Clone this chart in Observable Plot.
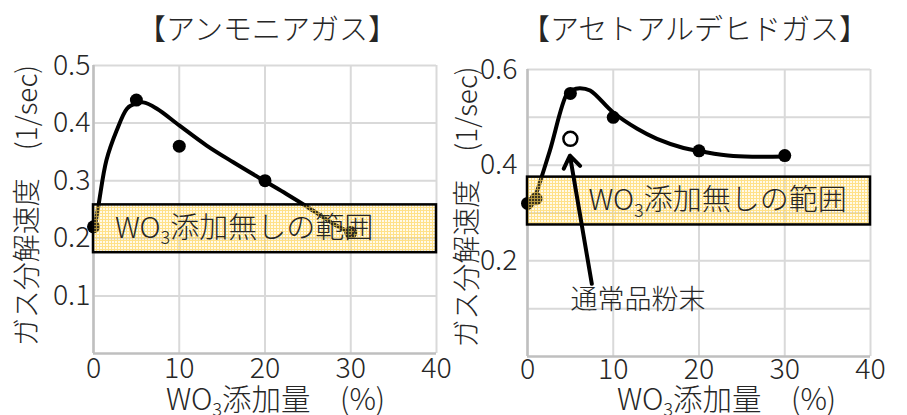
<!DOCTYPE html>
<html>
<head>
<meta charset="utf-8">
<script src="https://cdn.jsdelivr.net/npm/d3@7"></script>
<script src="https://cdn.jsdelivr.net/npm/@observablehq/plot@0.6"></script>
<style>
  body { margin: 0; background: #fff; }
  #wrap { position: relative; width: 907px; height: 415px; overflow: hidden; }
  #wrap svg { position: absolute; top: 0; overflow: visible; font-weight: 300; }
</style>
</head>
<body>
<div id="wrap"></div>
<script>
const FONT = '"Noto Sans CJK JP", "Noto Sans", sans-serif';
const INK = "#262626";

// x axis: WO3 addition (%)
const xTicks = [0, 10, 20, 30, 40];
const xLabel = "WO₃添加量　(%)";
const yLabel = "ガス分解速度　(1/sec)";
const bandLabel = "WO₃添加無しの範囲";

// Ammonia gas
const nh3Title = "【アンモニアガス】";
const nh3Wo3 = [0, 5, 10, 20, 30];
const nh3Rate = [0.22, 0.44, 0.36, 0.30, 0.21];
const nh3FitX = [0.1, 0.6, 1.5, 2.7, 3.9, 4.7, 5.8, 7.4, 10, 13.2, 16.3, 20, 22.5, 25, 28, 30.2];
const nh3FitY = [0.215, 0.259, 0.335, 0.387, 0.425, 0.433, 0.436, 0.425, 0.396, 0.361, 0.332, 0.299, 0.277, 0.254, 0.225, 0.208];
const nh3Band = [0.175, 0.258];
const nh3YTicks = [0.1, 0.2, 0.3, 0.4, 0.5];
const nh3YGrid = [0.1, 0.2, 0.3, 0.4, 0.5];

// Acetaldehyde gas
const aceTitle = "【アセトアルデヒドガス】";
const aceWo3 = [0, 1, 5, 10, 20, 30];
const aceRate = [0.32, 0.33, 0.55, 0.50, 0.43, 0.42];
const aceFitX = [0.9, 2.6, 4.6, 5.2, 6.1, 7.3, 10, 12.8, 15.1, 18.2, 20.2, 24, 30];
const aceFitY = [0.333, 0.43, 0.549, 0.557, 0.561, 0.556, 0.51, 0.476, 0.455, 0.436, 0.429, 0.419, 0.418];
const aceBand = [0.275, 0.375];
const aceYTicks = [0.2, 0.4, 0.6];
const aceYGrid = [0.1, 0.2, 0.3, 0.4, 0.5, 0.6];
// ordinary powder (no WO3 treatment) at 5 %
const plainWo3 = [5];
const plainRate = [0.455];
const plainName = "通常品粉末";
// callout arrow, in data units: from the label up to the hollow point
const calloutFrom = [7.5, 0.152];
const calloutTo = [4.95, 0.42];
const calloutText = [12.9, 0.117];

// see-through yellow plaid for the "no WO3" range band
function addBandPattern(svg, id) {
  const ns = "http://www.w3.org/2000/svg";
  const defs = document.createElementNS(ns, "defs");
  const pat = document.createElementNS(ns, "pattern");
  pat.setAttribute("id", id);
  pat.setAttribute("patternUnits", "userSpaceOnUse");
  pat.setAttribute("width", 3);
  pat.setAttribute("height", 3);
  const cells = [
    [0, 0, 3, 3, "#ffe699", 0.22],
    [0, 0, 3, 1, "#ffd24d", 0.62],
    [0, 1, 1, 2, "#ffd24d", 0.62]
  ];
  for (const [x, y, w, h, c, o] of cells) {
    const r = document.createElementNS(ns, "rect");
    r.setAttribute("x", x); r.setAttribute("y", y);
    r.setAttribute("width", w); r.setAttribute("height", h);
    r.setAttribute("fill", c); r.setAttribute("fill-opacity", o);
    pat.appendChild(r);
  }
  defs.appendChild(pat);
  svg.insertBefore(defs, svg.firstChild);
}

// turn "₃" into a lowered, smaller 3
function subscriptThree(svg) {
  const ns = "http://www.w3.org/2000/svg";
  svg.querySelectorAll("text").forEach(t => {
    const s = t.textContent;
    const i = s.indexOf("₃");
    if (i < 0 || t.querySelector("tspan")) return;
    t.textContent = "";
    t.appendChild(document.createTextNode(s.slice(0, i)));
    const sub = document.createElementNS(ns, "tspan");
    sub.setAttribute("font-size", "0.62em");
    sub.setAttribute("dy", "0.35em");
    sub.textContent = "3";
    t.appendChild(sub);
    const rest = document.createElementNS(ns, "tspan");
    rest.setAttribute("dy", "-0.217em");
    rest.textContent = s.slice(i + 1);
    t.appendChild(rest);
  });
}

function panel(o) {
  const pts = o.wo3.map((x, i) => ({x, y: o.rate[i]}));
  const fit = o.fitX.map((x, i) => ({x, y: o.fitY[i]}));
  const band = [{lo: o.band[0], hi: o.band[1]}];
  const svg = Plot.plot({
    width: o.width,
    height: 415,
    marginLeft: o.ml, marginRight: o.mr, marginTop: o.mt, marginBottom: o.mb,
    style: {fontFamily: FONT, color: INK, background: "transparent", overflow: "visible"},
    x: {domain: [0, 40], axis: null},
    y: {domain: o.yDomain, axis: null},
    marks: [
      Plot.gridY(o.yGrid, {stroke: "#d9d9d9", strokeOpacity: 1, strokeWidth: 2}),
      Plot.gridX(xTicks, {stroke: "#d9d9d9", strokeOpacity: 1, strokeWidth: 2}),
      Plot.ruleX([0], {stroke: "#bfbfbf", strokeWidth: 2.5}),
      Plot.ruleY([0], {stroke: "#bfbfbf", strokeWidth: 2.5}),
      Plot.axisX(xTicks, {tickSize: 0, tickPadding: o.xPad, fontSize: 28.5, label: null, tickFormat: d => String(d)}),
      Plot.axisY(o.yTicks, {tickSize: 0, tickPadding: o.yPad, fontSize: 28.5, label: null, tickFormat: d3.format(".1f")}),
      Plot.line(fit, {x: "x", y: "y", curve: "catmull-rom", stroke: "black", strokeWidth: 4}),
      Plot.dot(pts, {x: "x", y: "y", r: 6.5, fill: "black"}),
      ...(o.under || []),
      Plot.rect(band, {x1: () => 0, x2: () => 40, y1: "lo", y2: "hi", fill: `url(#${o.id})`, stroke: "black", strokeWidth: 2.5}),
      Plot.text(band, {x: () => o.bandTextX, y: d => (d.lo + d.hi) / 2, text: () => bandLabel, textAnchor: "start", fontSize: 29, fill: INK}),
      ...(o.over || []),
      Plot.text([o.title], {frameAnchor: "top", text: d => d, textAnchor: "middle", lineAnchor: "middle", dx: o.titleDx, dy: o.titleDy, fontSize: 29, fill: INK}),
      Plot.text([yLabel], {frameAnchor: "left", text: d => d, rotate: -90, textAnchor: "middle", lineAnchor: "middle", dx: o.yLabDx, dy: o.yLabDy, fontSize: 28, fill: INK}),
      Plot.text([xLabel], {frameAnchor: "bottom", text: d => d, textAnchor: "middle", lineAnchor: "middle", dx: o.xLabDx, dy: o.xLabDy, fontSize: 29.5, fill: INK})
    ]
  });
  addBandPattern(svg, o.id);
  subscriptThree(svg);
  svg.style.left = o.left + "px";
  return svg;
}

const wrap = document.getElementById("wrap");

wrap.appendChild(panel({
  id: "band-nh3", left: 0, width: 453,
  ml: 93, mr: 17, mt: 65, mb: 62,
  yDomain: [0, 0.5], yTicks: nh3YTicks, yGrid: nh3YGrid,
  wo3: nh3Wo3, rate: nh3Rate, fitX: nh3FitX, fitY: nh3FitY, band: nh3Band,
  bandTextX: 2.5, title: nh3Title,
  xPad: 4, yPad: 3,
  titleDx: 2, titleDy: -35,
  yLabDx: -65, yLabDy: -4,
  xLabDx: 10.5, xLabDy: 47
}));

const plainPts = plainWo3.map((x, i) => ({x, y: plainRate[i]}));
wrap.appendChild(panel({
  id: "band-ace", left: 453, width: 454,
  ml: 74, mr: 37, mt: 69, mb: 59,
  yDomain: [0, 0.6], yTicks: aceYTicks, yGrid: aceYGrid,
  wo3: aceWo3, rate: aceRate, fitX: aceFitX, fitY: aceFitY, band: aceBand,
  bandTextX: 7.1, title: aceTitle,
  xPad: 2, yPad: 10,
  titleDx: -4.5, titleDy: -39,
  yLabDx: -59, yLabDy: -6,
  xLabDx: 27.5, xLabDy: 44,
  over: [
    Plot.dot(plainPts, {x: "x", y: "y", r: 7, fill: "white", stroke: "black", strokeWidth: 2.5}),
    Plot.arrow([{a: calloutFrom, b: calloutTo}], {
      x1: d => d.a[0], y1: d => d.a[1], x2: d => d.b[0], y2: d => d.b[1],
      stroke: "black", strokeWidth: 4, headLength: 5.4, headAngle: 70
    }),
    Plot.text([plainName], {x: () => calloutText[0], y: () => calloutText[1], text: d => d, fontSize: 27, fill: INK})
  ]
}));
</script>
</body>
</html>
